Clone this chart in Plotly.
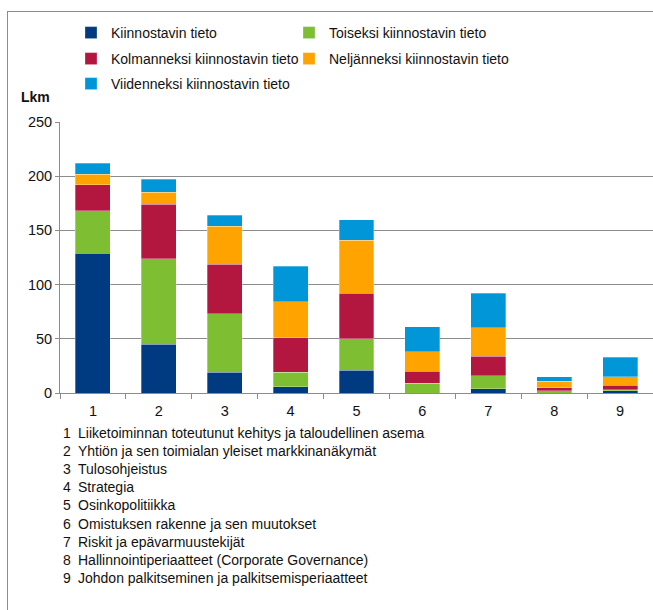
import plotly.graph_objects as go

categories = ["1", "2", "3", "4", "5", "6", "7", "8", "9"]
series_names = [
    "Kiinnostavin tieto",
    "Toiseksi kiinnostavin tieto",
    "Kolmanneksi kiinnostavin tieto",
    "Neljänneksi kiinnostavin tieto",
    "Viidenneksi kiinnostavin tieto",
]
kiinnostavin = [129, 45, 19, 6, 21, 0, 4, 0, 2]
toiseksi = [39, 79, 54, 13, 29, 9, 12, 2, 1]
kolmanneksi = [24, 50, 46, 32, 42, 11, 18, 3, 4]
neljanneksi = [10, 11, 35, 33, 49, 18, 26, 6, 8]
viidenneksi = [10, 12, 10, 33, 19, 23, 32, 4, 18]
category_labels = [
    "Liiketoiminnan toteutunut kehitys ja taloudellinen asema",
    "Yhtiön ja sen toimialan yleiset markkinanäkymät",
    "Tulosohjeistus",
    "Strategia",
    "Osinkopolitiikka",
    "Omistuksen rakenne ja sen muutokset",
    "Riskit ja epävarmuustekijät",
    "Hallinnointiperiaatteet (Corporate Governance)",
    "Johdon palkitseminen ja palkitsemisperiaatteet",
]
y_title = "Lkm"

colors = ["#003A80", "#7DBE33", "#B3163F", "#FFA300", "#0096D8"]
values = [kiinnostavin, toiseksi, kolmanneksi, neljanneksi, viidenneksi]
legend_ids = ["legend", "legend2", "legend3", "legend4", "legend5"]

W, H = 653, 610
L, R, T, B = 60, 0, 122, 217
PW, PH = W - L - R, H - T - B


def px(x):
    return (x - L) / PW


def py(y):
    return (H - B - y) / PH


FONT = "Liberation Sans, Arial, sans-serif"
TXT = "#111111"

fig = go.Figure()
for name, vals, col, lg in zip(series_names, values, colors, legend_ids):
    fig.add_trace(go.Bar(
        x=categories, y=vals, name=name, legend=lg, showlegend=True,
        marker=dict(color=col, line=dict(color="rgba(255,255,255,0.5)", width=0.6)),
    ))

annotations = [
    dict(text="<b>" + y_title + "</b>", xref="paper", yref="paper",
         x=px(19), y=py(97), xanchor="left", yanchor="middle",
         showarrow=False, font=dict(size=14, color=TXT, family=FONT)),
]
for i, (num, lab) in enumerate(zip(categories, category_labels)):
    yy = py(433 + 18.1 * i)
    annotations.append(dict(text=num, xref="paper", yref="paper", x=px(61), y=yy,
                            xanchor="left", yanchor="middle", showarrow=False,
                            font=dict(size=14, color=TXT, family=FONT)))
    annotations.append(dict(text=lab, xref="paper", yref="paper", x=px(76), y=yy,
                            xanchor="left", yanchor="middle", showarrow=False,
                            font=dict(size=14, color=TXT, family=FONT)))

leg_common = dict(orientation="h", xanchor="left", yanchor="middle",
                  font=dict(size=14, color=TXT, family=FONT),
                  bgcolor="rgba(0,0,0,0)", visible=True)

# legend slot positions in pixels, two columns x three rows
leg_pos = [(71, 33), (289, 33), (71, 59), (289, 59), (71, 84)]
legends = {}
for lid, (lx, ly) in zip(legend_ids, leg_pos):
    legends[lid] = dict(x=px(lx), y=py(ly), **leg_common)

fig.update_layout(
    width=W, height=H,
    showlegend=True,
    margin=dict(l=L, r=R, t=T, b=B, autoexpand=False),
    paper_bgcolor="white", plot_bgcolor="white",
    barmode="stack", bargap=0.47,
    font=dict(family=FONT, size=14, color=TXT),
    xaxis=dict(type="category", showline=True, linecolor="#8c8c8c", linewidth=1,
               ticks="outside", tickson="boundaries", ticklen=5, tickcolor="#8c8c8c",
               ticklabelstandoff=5,
               showgrid=False, tickfont=dict(size=14.5, color=TXT)),
    yaxis=dict(range=[0, 250], dtick=50, showline=True, linecolor="#8c8c8c", linewidth=1,
               ticks="outside", ticklen=4, tickcolor="#8c8c8c",
               showgrid=True, gridcolor="#8c8c8c", gridwidth=1, zeroline=False,
               tickfont=dict(size=14.5, color=TXT)),
    annotations=annotations,
    shapes=[
        dict(type="line", xref="paper", yref="paper", x0=px(7), x1=px(653),
             y0=py(11.5), y1=py(11.5), line=dict(color="#8c8c8c", width=1)),
        dict(type="line", xref="paper", yref="paper", x0=px(7.5), x1=px(7.5),
             y0=py(11.5), y1=py(610), line=dict(color="#8c8c8c", width=1)),
    ],
    **legends,
)

fig.write_html("out.html")
